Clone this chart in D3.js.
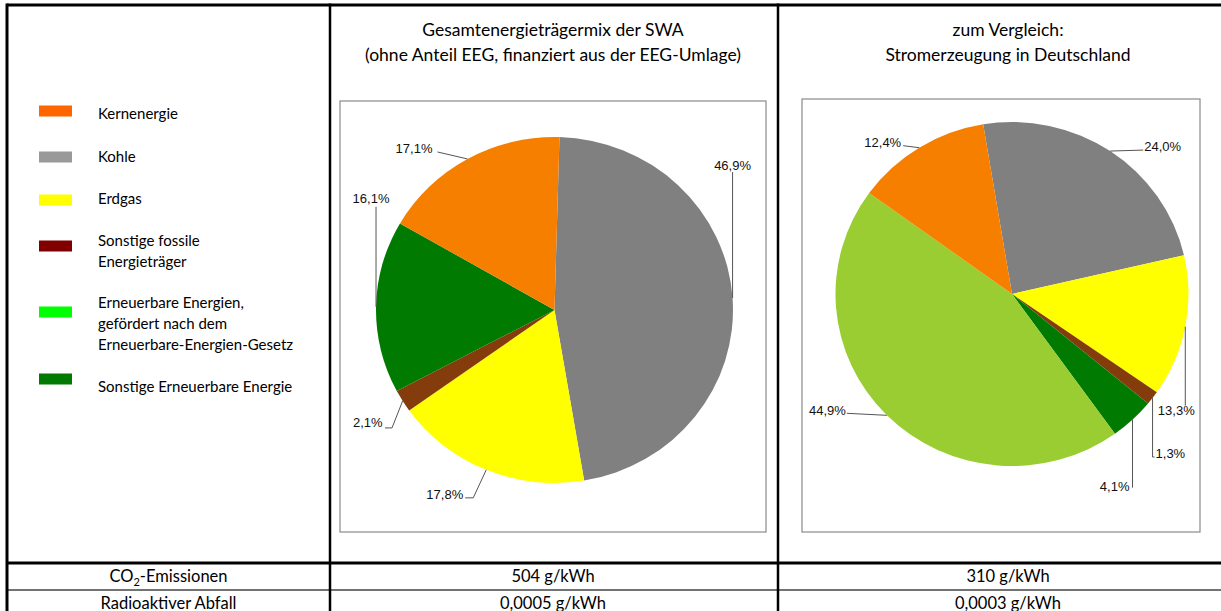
<!DOCTYPE html>
<html><head><meta charset="utf-8">
<script src="https://cdn.jsdelivr.net/npm/d3@7"></script>
<style>
html,body{margin:0;padding:0;background:#fff;}
svg{display:block;}
</style></head>
<body>
<svg id="c" width="1221" height="611"></svg>
<script>
// ---------- DATA ----------
const categories = ["Kernenergie", "Kohle", "Erdgas", "Sonstige fossile Energieträger",
  "Erneuerbare Energien, gefördert nach dem Erneuerbare-Energien-Gesetz", "Sonstige Erneuerbare Energie"];
const legendLines = [["Kernenergie"], ["Kohle"], ["Erdgas"], ["Sonstige fossile", "Energieträger"],
  ["Erneuerbare Energien,", "gefördert nach dem", "Erneuerbare-Energien-Gesetz"], ["Sonstige Erneuerbare Energie"]];
const swaValues = [17.1, 46.9, 17.8, 2.1, 0, 16.1];
const deValues = [12.4, 24.0, 13.3, 1.3, 44.9, 4.1];
const pieOrder = [1, 2, 3, 5, 4, 0];
const swaTitle = ["Gesamtenergieträgermix der SWA", "(ohne Anteil EEG, finanziert aus der EEG-Umlage)"];
const deTitle = ["zum Vergleich:", "Stromerzeugung in Deutschland"];
const rowLabels = ["CO2-Emissionen", "Radioaktiver Abfall"];
const swaRow = ["504 g/kWh", "0,0005 g/kWh"];
const deRow = ["310 g/kWh", "0,0003 g/kWh"];

// ---------- STYLE ----------
const legendColors = ["#ff6600", "#999999", "#ffff00", "#800000", "#00ff00", "#007a00"];
const pieColors = ["#f77f00", "#808080", "#ffff00", "#843c0c", "#9acd32", "#007a00"];
const headFont = "Lato, 'Open Sans', sans-serif";
const labelFont = "'Liberation Sans', Arial, sans-serif";

const svg = d3.select("#c");

// ---------- TABLE GRID ----------
const colX = [7, 330, 778, 1240];
const topY = 5, sepY = 563, rowY = 590;
const g = svg.append("g");
g.append("line").attr("x1", colX[0]).attr("x2", 1221).attr("y1", topY).attr("y2", topY)
  .attr("stroke", "#000").attr("stroke-width", 3);
g.append("line").attr("x1", colX[0]).attr("x2", 1221).attr("y1", sepY).attr("y2", sepY)
  .attr("stroke", "#000").attr("stroke-width", 3);
g.append("line").attr("x1", colX[0]).attr("x2", 1221).attr("y1", rowY).attr("y2", rowY)
  .attr("stroke", "#444").attr("stroke-width", 1.5);
colX.slice(0, 3).forEach((x, i) => {
  g.append("line").attr("x1", x).attr("x2", x).attr("y1", topY - 1.5).attr("y2", 611)
    .attr("stroke", "#000").attr("stroke-width", i === 0 ? 3 : 2.5);
});

// ---------- LEGEND ----------
const legendY = [111, 157, 200, 246, 312, 379];
const legendTextY = [113, 156, 198, 240, 302, 386];
const leg = svg.append("g");
categories.forEach((c, i) => {
  leg.append("rect").attr("x", 39).attr("y", legendY[i] - 5.5).attr("width", 33).attr("height", 11)
    .attr("fill", legendColors[i]);
  legendLines[i].forEach((t, j) => {
    leg.append("text").attr("x", 98).attr("y", legendTextY[i] + j * 21 + 5.5)
      .attr("font-family", headFont).attr("font-size", 15).attr("fill", "#000").text(t);
  });
});

// ---------- HEADERS ----------
function header(lines, cx) {
  lines.forEach((t, j) => {
    svg.append("text").attr("x", cx).attr("y", 30 + j * 25 + 6)
      .attr("text-anchor", "middle")
      .attr("font-family", headFont).attr("font-size", 17.5).attr("fill", "#000").text(t);
  });
}
header(swaTitle, 553);
header(deTitle, 1008);

// ---------- TABLE ROWS ----------
const rowCenters = [576, 603];
rowLabels.forEach((t, i) => {
  const tx = svg.append("text").attr("x", (colX[0] + colX[1]) / 2).attr("y", rowCenters[i] + 6)
    .attr("text-anchor", "middle").attr("font-family", headFont).attr("font-size", 16.5).attr("fill", "#000");
  if (t.startsWith("CO2")) {
    tx.append("tspan").text("CO");
    tx.append("tspan").attr("font-size", 11).attr("dy", 4).text("2");
    tx.append("tspan").attr("dy", -4).text(t.slice(3));
  } else tx.text(t);
  svg.append("text").attr("x", 553).attr("y", rowCenters[i] + 6)
    .attr("text-anchor", "middle").attr("font-family", headFont).attr("font-size", 16.5).text(swaRow[i]);
  svg.append("text").attr("x", 1008).attr("y", rowCenters[i] + 6)
    .attr("text-anchor", "middle").attr("font-family", headFont).attr("font-size", 16.5).text(deRow[i]);
});

// ---------- PIES ----------
const fmt = v => d3.format(".1f")(v).replace(".", ",") + "%";

function drawPie(values, opt) {
  svg.append("rect").attr("x", opt.frame[0]).attr("y", opt.frame[1])
    .attr("width", opt.frame[2]).attr("height", opt.frame[3])
    .attr("fill", "#fff").attr("stroke", "#8a8a8a").attr("stroke-width", 1.2);
  const ordered = pieOrder.map(i => ({ idx: i, value: values[i] }));
  const start = opt.start * Math.PI / 180;
  const pie = d3.pie().sort(null).value(d => d.value).startAngle(start).endAngle(start + 2 * Math.PI);
  const arcs = pie(ordered);
  const arc = d3.arc().innerRadius(0).outerRadius(opt.rx);
  const pg = svg.append("g").attr("transform", `translate(${opt.cx},${opt.cy}) scale(1,${opt.ry / opt.rx})`);
  pg.selectAll("path").data(arcs.filter(a => a.data.value > 0)).join("path")
    .attr("d", arc).attr("fill", d => pieColors[d.data.idx]);

  const lg = svg.append("g");
  arcs.forEach(a => {
    if (a.data.value <= 0) return;
    const L = opt.labels[a.data.idx];
    const m = (a.startAngle + a.endAngle) / 2;
    const px = opt.cx + opt.rx * Math.sin(m), py = opt.cy - opt.ry * Math.cos(m);
    const pts = [[px, py]].concat(L.line.map(p => [px + p[0], py + p[1]]));
    lg.append("path").attr("d", d3.line()(pts)).attr("fill", "none").attr("stroke", "#555").attr("stroke-width", 1);
    lg.append("text").attr("x", px + L.dx).attr("y", py + L.dy).attr("text-anchor", L.anchor)
      .attr("font-family", labelFont).attr("font-size", 13).attr("fill", "#111").text(fmt(a.data.value));
  });
}

drawPie(swaValues, {
  frame: [340, 101, 426, 431], cx: 554.5, cy: 310, rx: 178.5, ry: 173, start: 1.6,
  labels: {
    0: { line: [[-30, -7]], dx: -35, dy: -6, anchor: "end" },
    1: { line: [[0, -126]], dx: 0, dy: -128, anchor: "middle" },
    2: { line: [[-13, 28], [-21, 28]], dx: -23, dy: 29, anchor: "end" },
    3: { line: [[-10.6, 27], [-17.6, 27]], dx: -20, dy: 26, anchor: "end" },
    5: { line: [[0, -100]], dx: -5, dy: -104, anchor: "middle" }
  }
});
drawPie(deValues, {
  frame: [802, 99, 398, 433], cx: 1012, cy: 294, rx: 176.5, ry: 172, start: -9.4,
  labels: {
    0: { line: [[-16, -2]], dx: -18, dy: -1, anchor: "end" },
    1: { line: [[33, -1]], dx: 34, dy: 0, anchor: "start" },
    2: { line: [[0, 79]], dx: -9, dy: 88, anchor: "middle" },
    3: { line: [[0, 59], [2, 59]], dx: 3, dy: 60, anchor: "start" },
    5: { line: [[0, 68]], dx: -3, dy: 71, anchor: "end" },
    4: { line: [[-40, -2]], dx: -41, dy: 0, anchor: "end" }
  }
});
</script>
</body></html>
